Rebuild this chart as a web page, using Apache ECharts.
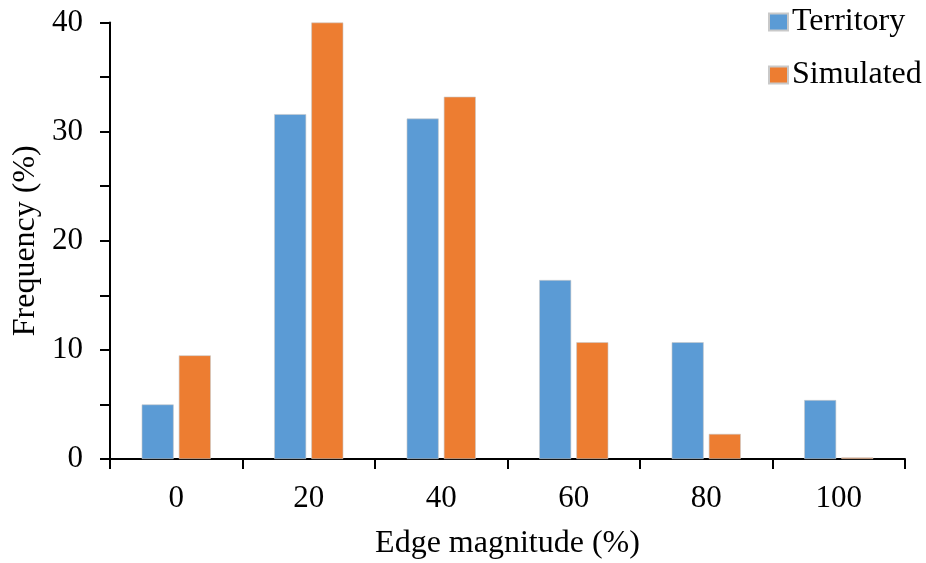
<!DOCTYPE html>
<html>
<head>
<meta charset="utf-8">
<script src="https://cdn.jsdelivr.net/npm/echarts@6/dist/echarts.min.js"></script>
<style>
  html, body { margin: 0; padding: 0; background: #fff; }
  #main { width: 926px; height: 563px; }
</style>
</head>
<body>
<div id="main"></div>
<script>
// values
var categories = ['0', '20', '40', '60', '80', '100'];
var territory = [5.0, 31.6, 31.2, 16.4, 10.7, 5.4];
var simulated = [9.5, 40.0, 33.2, 10.7, 2.3, 0.15];
var yTicks = [0, 10, 20, 30, 40];

var font = 'Liberation Serif, Times New Roman, serif';
var myChart = echarts.init(document.getElementById('main'));

var option = {
  animation: false,
  textStyle: { fontFamily: font, color: '#000' },
  grid: { left: 110, right: 21, top: 22.5, bottom: 104, outerBoundsMode: 'none', containLabel: false },
  legend: {
    orient: 'vertical',
    left: 768,
    top: 6,
    padding: 0,
    itemWidth: 19,
    itemHeight: 17,
    itemGap: 21,
    icon: 'rect',
    textStyle: { fontFamily: font, fontSize: 32, color: '#000', lineHeight: 32, padding: [0, 0, 0, -1] },
    data: ['Territory', 'Simulated']
  },
  xAxis: {
    type: 'category',
    data: categories,
    name: 'Edge magnitude (%)',
    nameLocation: 'middle',
    nameGap: 69,
    nameTextStyle: { fontFamily: font, fontSize: 32, color: '#000' },
    axisLine: { lineStyle: { color: '#000', width: 2 } },
    axisTick: { show: true, length: 10, lineStyle: { color: '#000', width: 2 } },
    axisLabel: { fontFamily: font, fontSize: 31, color: '#000', margin: 24 }
  },
  yAxis: {
    type: 'value',
    min: yTicks[0],
    max: yTicks[yTicks.length - 1],
    interval: 10,
    name: 'Frequency (%)',
    nameLocation: 'middle',
    nameGap: 66,
    nameTextStyle: { fontFamily: font, fontSize: 32, color: '#000' },
    axisLine: { show: true, lineStyle: { color: '#000', width: 2 } },
    axisTick: { show: true, length: 10, lineStyle: { color: '#000', width: 2 } },
    minorTick: { show: true, splitNumber: 2, length: 10, lineStyle: { color: '#000', width: 2 } },
    splitLine: { show: false },
    axisLabel: { fontFamily: font, fontSize: 31, color: '#000', margin: 27 }
  },
  series: [
    {
      name: 'Territory',
      type: 'bar',
      data: territory,
      barWidth: 32,
      barGap: '16%',
      itemStyle: { color: '#5B9BD5', borderColor: '#c9c9c9', borderWidth: 0.6 }
    },
    {
      name: 'Simulated',
      type: 'bar',
      data: simulated,
      barWidth: 32,
      barGap: '16%',
      itemStyle: { color: '#ED7D31', borderColor: '#c9c9c9', borderWidth: 0.6 }
    }
  ]
};

myChart.setOption(option);
</script>
</body>
</html>
